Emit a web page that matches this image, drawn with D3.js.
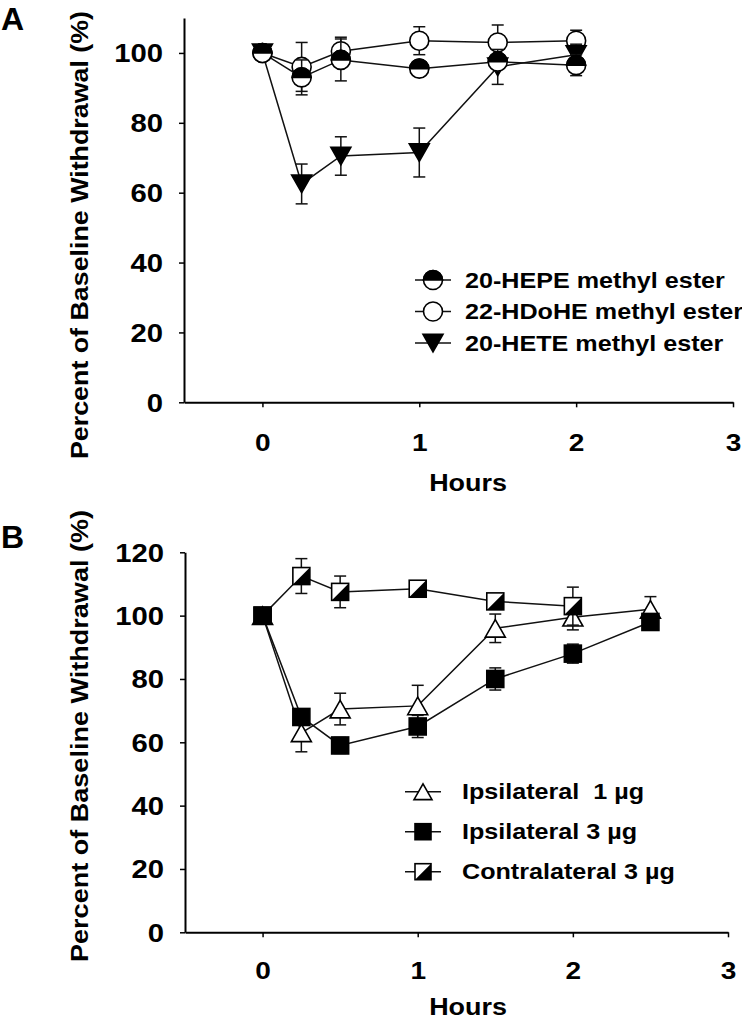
<!DOCTYPE html>
<html><head><meta charset="utf-8">
<script src="https://cdn.jsdelivr.net/npm/d3@7"></script>
<style>
body{margin:0;background:#fff}
text{font-family:"Liberation Sans",Arial,sans-serif;font-weight:bold;fill:#000}
</style>
</head><body>
<svg id="c" width="742" height="1020"></svg>
<script>
// ---------- data ----------
const hoursTicks = [0, 1, 2, 3];
const yTicksA = [0, 20, 40, 60, 80, 100];
const yTicksB = [0, 20, 40, 60, 80, 100, 120];

// Panel A
const timeA = [0, 0.25, 0.5, 1, 1.5, 2];
const hepeMean  = [100, 93, 98, 95.5, 97.5, 96.5];
const hepeErr   = [1.5, 5, 6, 2, 2, 3];
const hdoheMean = [100, 96, 100.5, 103.5, 103, 103.5];
const hdoheErr  = [1, 7, 4, 4, 5, 3];
const heteMean  = [100, 62.5, 70.5, 71.5, 96, 99.5];
const heteErr   = [1, 5.7, 5.5, 7, 5, 3];
const legendA = ["20-HEPE methyl ester", "22-HDoHE methyl ester", "20-HETE methyl ester"];

// Panel B
const timeB = [0, 0.25, 0.5, 1, 1.5, 2, 2.5];
const ipsi1Mean = [100, 63, 70.5, 71.5, 96, 99.5, 102];
const ipsi1Err  = [1, 6, 5, 6.5, 4.5, 4, 4];
const ipsi3Mean = [100, 68, 59, 65, 80, 88, 98];
const ipsi3Err  = [1, 2, 2.5, 3.5, 3.5, 3, 2];
const timeC = [0, 0.25, 0.5, 1, 1.5, 2];
const contraMean = [100, 112.5, 107.5, 108.5, 104.5, 103];
const contraErr  = [1, 5.5, 5, 1.5, 1, 6];
const legendB = ["Ipsilateral  1 \u00b5g", "Ipsilateral 3 \u00b5g", "Contralateral 3 \u00b5g"];

// ---------- drawing ----------
const SX = 1.17;
const svg = d3.select("#c");

function marker(g, type, cx, cy, s) {
  const m = g.append("g").attr("transform", `translate(${cx},${cy})`);
  const sw = 1.6;
  if (type === "halfcircle" || type === "circle") {
    const r = s / 2;
    m.append("circle").attr("r", r).attr("fill", "#fff").attr("stroke", "#000").attr("stroke-width", sw);
    if (type === "halfcircle")
      m.append("path").attr("d", `M${-r},0 A${r},${r} 0 0 1 ${r},0 Z`).attr("fill", "#000").attr("stroke", "#000").attr("stroke-width", sw);
  } else if (type === "tridown" || type === "triup") {
    const w = s, h = s * 0.88;
    const d = type === "tridown"
      ? `M${-w/2},${-h/2} L${w/2},${-h/2} L0,${h/2} Z`
      : `M${-w/2},${h/2} L${w/2},${h/2} L0,${-h/2} Z`;
    m.append("path").attr("d", d)
      .attr("fill", type === "tridown" ? "#000" : "#fff")
      .attr("stroke", "#000").attr("stroke-width", sw).attr("stroke-linejoin", "miter");
  } else if (type === "square" || type === "halfsquare") {
    const a = s / 2;
    m.append("rect").attr("x", -a).attr("y", -a).attr("width", s).attr("height", s)
      .attr("fill", type === "square" ? "#000" : "#fff").attr("stroke", "#000").attr("stroke-width", sw);
    if (type === "halfsquare")
      m.append("path").attr("d", `M${a},${-a} L${a},${a} L${-a},${a} Z`).attr("fill", "#000");
  }
}

function series(g, x, y, t, mean, err, type, size) {
  const pts = t.map((d, i) => ({ t: d, v: mean[i], e: err[i] }));
  g.append("path").datum(pts)
    .attr("d", d3.line().x(d => x(d.t)).y(d => y(d.v)))
    .attr("fill", "none").attr("stroke", "#111").attr("stroke-width", 1.5);
  const eb = g.append("g").attr("stroke", "#111").attr("stroke-width", 1.5);
  pts.forEach(d => {
    const xx = x(d.t), y1 = y(d.v + d.e), y2 = y(d.v - d.e);
    eb.append("line").attr("x1", xx).attr("x2", xx).attr("y1", y1).attr("y2", y2);
    eb.append("line").attr("x1", xx - 6).attr("x2", xx + 6).attr("y1", y1).attr("y2", y1);
    eb.append("line").attr("x1", xx - 6).attr("x2", xx + 6).attr("y1", y2).attr("y2", y2);
  });
  const mg = g.append("g");
  pts.forEach(d => marker(mg, type, x(d.t), y(d.v), size));
}

function panel(cfg) {
  const g = svg.append("g");
  const x = d3.scaleLinear().domain([-0.5, 3]).range([cfg.x0, cfg.x1]);
  const y = d3.scaleLinear().domain([0, cfg.ymax]).range([cfg.y0, cfg.ytop]);

  const xa = g.append("g").attr("transform", `translate(0,${cfg.y0})`)
    .call(d3.axisBottom(x).tickValues(hoursTicks).tickSize(5).tickSizeOuter(0).tickFormat(d3.format("d")));
  const ya = g.append("g").attr("transform", `translate(${cfg.x0},0)`)
    .call(d3.axisLeft(y).tickValues(cfg.yticks).tickSize(5).tickSizeOuter(0).tickFormat(d3.format("d")));
  [xa, ya].forEach(a => {
    a.attr("font-family", null).attr("font-size", null);
    a.select(".domain").attr("stroke", "#000").attr("stroke-width", 2);
    a.selectAll(".tick line").attr("stroke", "#000").attr("stroke-width", 1.5);
  });
  xa.selectAll(".tick text").attr("y", 0).attr("dy", "0.35em")
    .attr("transform", `translate(0,${cfg.xlabOff}) scale(${SX},1)`).style("font-size", "24px");
  ya.selectAll(".tick text").attr("x", 0).attr("dy", "0.35em")
    .attr("transform", `translate(-21,0) scale(${SX},1)`).style("font-size", "25px");

  g.append("text").attr("text-anchor", "middle").attr("dy", "0.35em")
    .attr("transform", `translate(468,${cfg.y0 + cfg.hoursOff}) scale(${SX},1)`)
    .style("font-size", "23px").text("Hours");
  g.append("text").attr("text-anchor", "middle")
    .attr("transform", `translate(88,${cfg.ytitleC}) rotate(-90)`)
    .attr("textLength", cfg.ytitleLen).attr("lengthAdjust", "spacingAndGlyphs")
    .style("font-size", "23px").text("Percent of Baseline Withdrawal (%)");
  g.append("text").attr("x", 1).attr("y", cfg.letterY).style("font-size", "32px").text(cfg.letter);

  cfg.series.forEach(s => series(g, x, y, s.t, s.mean, s.err, s.type, s.size));

  // legend
  const lg = g.append("g");
  cfg.legend.forEach((name, i) => {
    const cy = cfg.leg.y0 + i * cfg.leg.dy;
    lg.append("line").attr("x1", cfg.leg.lx0).attr("x2", cfg.leg.lx1).attr("y1", cy).attr("y2", cy)
      .attr("stroke", "#111").attr("stroke-width", 1.5);
    marker(lg, cfg.leg.types[i], cfg.leg.mx, cy, cfg.leg.msize[i]);
    lg.append("text").attr("dy", "0.35em").style("white-space", "pre")
      .attr("transform", `translate(${cfg.leg.tx},${cy}) scale(${SX},1)`)
      .style("font-size", "21.5px").text(name);
  });
}

panel({
  x0: 184, x1: 733, y0: 402.3, ytop: 18, ymax: 110, yticks: yTicksA,
  xlabOff: 40, hoursOff: 81, ytitleC: 235, ytitleLen: 448, letter: "A", letterY: 30,
  series: [
    { t: timeA, mean: hdoheMean, err: hdoheErr, type: "circle", size: 19 },
    { t: timeA, mean: heteMean, err: heteErr, type: "tridown", size: 20 },
    { t: timeA, mean: hepeMean, err: hepeErr, type: "halfcircle", size: 19 }
  ],
  legend: legendA,
  leg: { y0: 280, dy: 31.5, lx0: 415, lx1: 451, mx: 433, tx: 465,
         types: ["halfcircle", "circle", "tridown"], msize: [19, 19, 20] }
});

panel({
  x0: 185, x1: 728, y0: 932.3, ytop: 552.3, ymax: 120, yticks: yTicksB,
  xlabOff: 38, hoursOff: 75, ytitleC: 736, ytitleLen: 452, letter: "B", letterY: 548,
  series: [
    { t: timeB, mean: ipsi1Mean, err: ipsi1Err, type: "triup", size: 20 },
    { t: timeC, mean: contraMean, err: contraErr, type: "halfsquare", size: 17 },
    { t: timeB, mean: ipsi3Mean, err: ipsi3Err, type: "square", size: 17 }
  ],
  legend: legendB,
  leg: { y0: 791.7, dy: 40, lx0: 405, lx1: 441, mx: 423, tx: 462,
         types: ["triup", "square", "halfsquare"], msize: [18, 16, 16] }
});
</script>
</body></html>
